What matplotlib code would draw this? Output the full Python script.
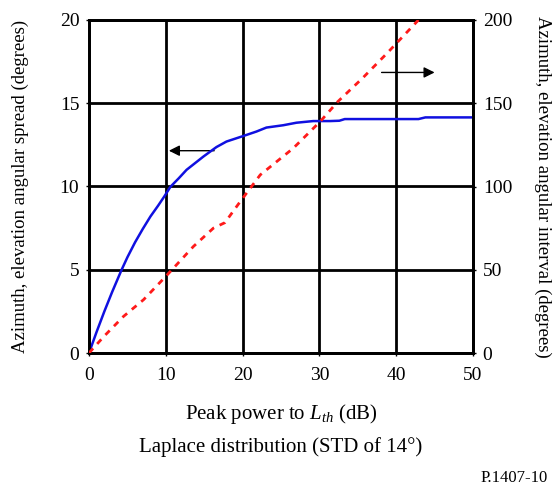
import matplotlib
matplotlib.use("Agg")
import matplotlib.pyplot as plt

plt.rcParams['font.family'] = ['Liberation Serif', 'DejaVu Serif']
plt.rcParams['mathtext.fontset'] = 'custom'
plt.rcParams['mathtext.it'] = 'Liberation Serif:italic'
plt.rcParams['mathtext.rm'] = 'Liberation Serif'

# Angular spread (left axis)
spread_x = [0, 1.0, 2.0, 3.0, 4.2, 5.0, 6.0, 7.0, 8.0, 9.0, 9.83, 10.6, 11.7, 12.7, 14.9, 16.6,
            17.9, 20.2, 21.8, 23.1, 25.3, 27.0, 29.2, 31.4, 32.6, 33.3, 42.9, 43.8, 50.0]
spread_y = [0, 1.28, 2.5, 3.65, 4.95, 5.75, 6.65, 7.45, 8.2, 8.85, 9.42, 9.98, 10.5, 11.0, 11.8,
            12.37, 12.7, 13.05, 13.3, 13.54, 13.68, 13.83, 13.93, 13.93, 13.95, 14.05, 14.05,
            14.15, 14.15]

# Angular interval (right axis)
interval_x = [0, 1.95, 4.5, 7.1, 10.2, 13.6, 16.2, 17.7, 19.7, 21.0, 22.3, 26.6, 30.1, 32.4,
              35.6, 38.8, 42.9]
interval_y = [0, 10, 22, 32, 47, 64, 75, 78.3, 91, 99, 107, 123, 139, 151,
              165, 180, 200]

x_ticks = [0, 10, 20, 30, 40, 50]
left_ticks = [0, 5, 10, 15, 20]
right_ticks = [0, 50, 100, 150, 200]

fig = plt.figure(figsize=(5.53, 4.95), dpi=100)
ax = fig.add_axes([89/553, 1 - 353/495, (473-89)/553, (353-20)/495])
ax2 = ax.twinx()

ax.set_xlim(0, 50)
ax.set_ylim(0, 20)
ax2.set_ylim(0, 200)
ax.set_xticks(x_ticks)
ax.set_yticks(left_ticks)
ax2.set_yticks(right_ticks)

ax.grid(True, color='black', linewidth=2)
for a in (ax, ax2):
    for s in a.spines.values():
        s.set_linewidth(2)
        s.set_color('black')
ax.tick_params(axis='y', labelsize=14, length=2, width=1, color='black', pad=5)
ax.tick_params(axis='x', labelsize=14, length=2, width=1, color='black', pad=8)
ax2.tick_params(labelsize=14, length=2, width=1, color='black', pad=5)

ax.plot(spread_x, spread_y, color='#1010e0', linewidth=1.8, zorder=5)
ax2.plot(interval_x, interval_y, color='#ff1a1a', linewidth=2, linestyle=(0, (2.2, 2.2)), zorder=5)

ax.set_xlabel('Peak power to $L_{th}$ (dB)', fontsize=15)
ax.xaxis.set_label_coords(0.5, (353 - 414) / 333, transform=ax.transAxes)
ax.xaxis.label.set_va('center')
ax.set_ylabel('Azimuth, elevation angular spread (degrees)', fontsize=13.5)
ax.yaxis.set_label_coords((20 - 89) / 384, 0.5)
ax.yaxis.label.set_va('center')
ax2.set_ylabel('Azimuth, elevation angular interval (degrees)', fontsize=13.5, rotation=270)
ax2.yaxis.set_label_coords((543 - 89) / 384, 0.5)
ax2.yaxis.label.set_va('center')

# arrows
ax.annotate('', xy=(10.4, 12.15), xytext=(16.3, 12.15),
            arrowprops=dict(arrowstyle='-|>', color='black', lw=1, mutation_scale=16,
                            shrinkA=0, shrinkB=0))
ax.annotate('', xy=(45.0, 16.85), xytext=(38.1, 16.85),
            arrowprops=dict(arrowstyle='-|>', color='black', lw=1, mutation_scale=16,
                            shrinkA=0, shrinkB=0))

fig.text(0.5 * (89 + 473) / 553, 1 - 447/495, 'Laplace distribution (STD of 14°)',
         fontsize=15, ha='center', va='center')
fig.text(548/553, 1 - 478/495, 'P.1407-10', fontsize=12, ha='right', va='center')

fig.savefig('out.png', dpi=100)
